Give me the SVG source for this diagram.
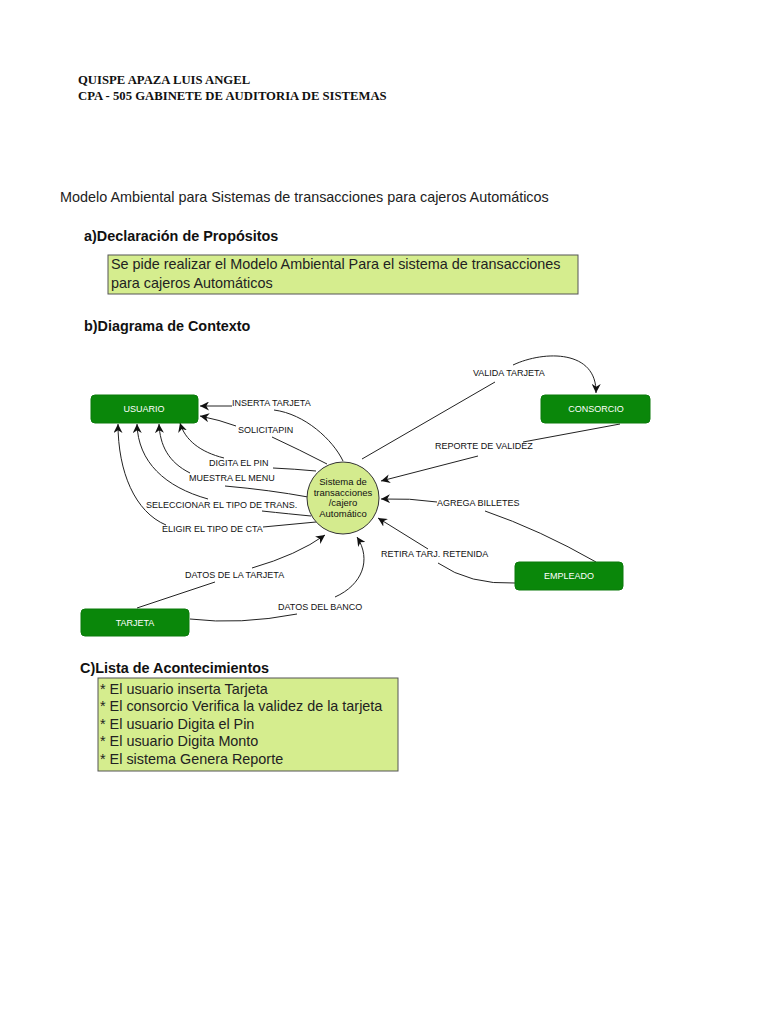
<svg xmlns="http://www.w3.org/2000/svg" width="768" height="1024" viewBox="0 0 768 1024">
<style>
.hdr{font-family:"Liberation Serif",serif;font-weight:bold;font-size:12.7px;fill:#111}
.body{font-family:"Liberation Sans",Arial,sans-serif;font-size:14.4px;fill:#222}
.bold{font-family:"Liberation Sans",Arial,sans-serif;font-size:14.4px;font-weight:bold;fill:#111}
.lbl{font-family:"Liberation Sans",Arial,sans-serif;font-size:9px;fill:#111}
.ntxt{font-family:"Liberation Sans",Arial,sans-serif;font-size:9px;fill:#fff;text-anchor:middle}
.ctxt{font-family:"Liberation Sans",Arial,sans-serif;font-size:9.5px;fill:#111;text-anchor:middle}
.node{fill:#0a870a;stroke:#0a7a0a;stroke-width:1}
.box{fill:#d5ed8e;stroke:#555;stroke-width:1}
.c{fill:none;stroke:#222;stroke-width:1}
.a{marker-end:url(#arr)}
</style>
<defs>
<marker id="arr" viewBox="0 0 10 10" refX="10" refY="5" markerWidth="9" markerHeight="9" markerUnits="userSpaceOnUse" orient="auto">
<path d="M0,0 L10,5 L0,10 L3,5 Z" fill="#111"/>
</marker>
</defs>
<rect width="768" height="1024" fill="#fff"/>

<text class="hdr" x="78" y="84">QUISPE APAZA LUIS ANGEL</text>
<text class="hdr" x="78" y="100">CPA - 505 GABINETE DE AUDITORIA DE SISTEMAS</text>

<text class="body" x="60" y="202">Modelo Ambiental para Sistemas de transacciones para cajeros Automáticos</text>
<text class="bold" x="84" y="241">a)Declaración de Propósitos</text>
<g id="proposito">
<rect class="box" x="108" y="255" width="470" height="39"/>
<text class="body" x="111" y="269">Se pide realizar el Modelo Ambiental Para el sistema de transacciones</text>
<text class="body" x="111" y="288">para cajeros Automáticos</text>
</g>
<text class="bold" x="84" y="331">b)Diagrama de Contexto</text>

<g id="connectors">
<!-- INSERTA TARJETA -->
<path class="c" d="M343,461 C333,440 305,414 274,410"/>
<path class="c a" d="M232,406 L200,406"/>
<!-- SOLICITAPIN -->
<path class="c" d="M327,464 Q300,450 272,437"/>
<path class="c a" d="M236,426 Q220,420 200,416"/>
<!-- DIGITA EL PIN -->
<path class="c" d="M316,471 Q295,469 273,468"/>
<path class="c a" d="M224,458 C200,452 185,440 180,423"/>
<!-- MUESTRA EL MENU -->
<path class="c" d="M308,497 Q270,490 225,486"/>
<path class="c a" d="M190,473 C168,462 160,445 159,424"/>
<!-- SELECCIONAR -->
<path class="c" d="M311,516 Q290,514 262,511"/>
<path class="c a" d="M208,499 C165,487 138,462 137,424"/>
<!-- ELIGIR -->
<path class="c" d="M316,522 L263,527"/>
<path class="c a" d="M166,525 C135,512 118,472 118,424"/>
<!-- VALIDA TARJETA -->
<path class="c" d="M362,459 L495,382"/>
<path class="c a" d="M513,365 C545,350 597,350 596,393"/>
<!-- REPORTE DE VALIDEZ -->
<path class="c" d="M620,424 L523,442"/>
<path class="c a" d="M478,456 L381,481"/>
<!-- AGREGA BILLETES -->
<path class="c" d="M596,562 Q540,530 485,511"/>
<path class="c a" d="M437,502 Q410,498 381,499"/>
<!-- RETIRA TARJ. RETENIDA -->
<path class="c" d="M515,583 Q470,585 438,563"/>
<path class="c a" d="M428,549 L378,518"/>
<!-- DATOS DE LA TARJETA -->
<path class="c" d="M137,608 L215,582"/>
<path class="c a" d="M252,568 Q297,555 325,535"/>
<!-- DATOS DEL BANCO -->
<path class="c" d="M190,619 Q240,625 297,614"/>
<path class="c a" d="M335,597 C362,585 372,560 357,537"/>
</g>

<g id="labels">
<text class="lbl" x="232" y="406">INSERTA TARJETA</text>
<text class="lbl" x="238" y="433">SOLICITAPIN</text>
<text class="lbl" x="473" y="376">VALIDA TARJETA</text>
<text class="lbl" x="435" y="449">REPORTE DE VALIDEZ</text>
<text class="lbl" x="209" y="466">DIGITA EL PIN</text>
<text class="lbl" x="189" y="481">MUESTRA EL MENU</text>
<text class="lbl" x="146" y="508">SELECCIONAR EL TIPO DE TRANS.</text>
<text class="lbl" x="437" y="506">AGREGA BILLETES</text>
<text class="lbl" x="162" y="532">ELIGIR EL TIPO DE CTA</text>
<text class="lbl" x="381" y="557">RETIRA TARJ. RETENIDA</text>
<text class="lbl" x="185" y="578">DATOS DE LA TARJETA</text>
<text class="lbl" x="278" y="610">DATOS DEL BANCO</text>
</g>

<g id="usuario">
<rect class="node" x="91" y="395" width="107" height="28" rx="4"/>
<text class="ntxt" x="144" y="412">USUARIO</text>
</g>
<g id="consorcio">
<rect class="node" x="541" y="395" width="109" height="28" rx="4"/>
<text class="ntxt" x="596" y="412">CONSORCIO</text>
</g>
<g id="empleado">
<rect class="node" x="515" y="562" width="108" height="28" rx="4"/>
<text class="ntxt" x="569" y="579">EMPLEADO</text>
</g>
<g id="tarjeta">
<rect class="node" x="81" y="609" width="108" height="27" rx="4"/>
<text class="ntxt" x="135" y="626">TARJETA</text>
</g>
<g id="sistema">
<circle cx="343" cy="498" r="36" fill="#d4eb8e" stroke="#333" stroke-width="1"/>
<text class="ctxt" x="343" y="485">Sistema de</text>
<text class="ctxt" x="343" y="496">transacciones</text>
<text class="ctxt" x="343" y="506">/cajero</text>
<text class="ctxt" x="343" y="517">Automático</text>
</g>

<text class="bold" x="80" y="673">C)Lista de Acontecimientos</text>
<g id="lista">
<rect class="box" x="98" y="678" width="300" height="93"/>
<text class="body" x="100" y="694">* El usuario inserta Tarjeta</text>
<text class="body" x="100" y="711">* El consorcio Verifica la validez de la tarjeta</text>
<text class="body" x="100" y="729">* El usuario Digita el Pin</text>
<text class="body" x="100" y="746">* El usuario Digita Monto</text>
<text class="body" x="100" y="764">* El sistema Genera Reporte</text>
</g>
</svg>
